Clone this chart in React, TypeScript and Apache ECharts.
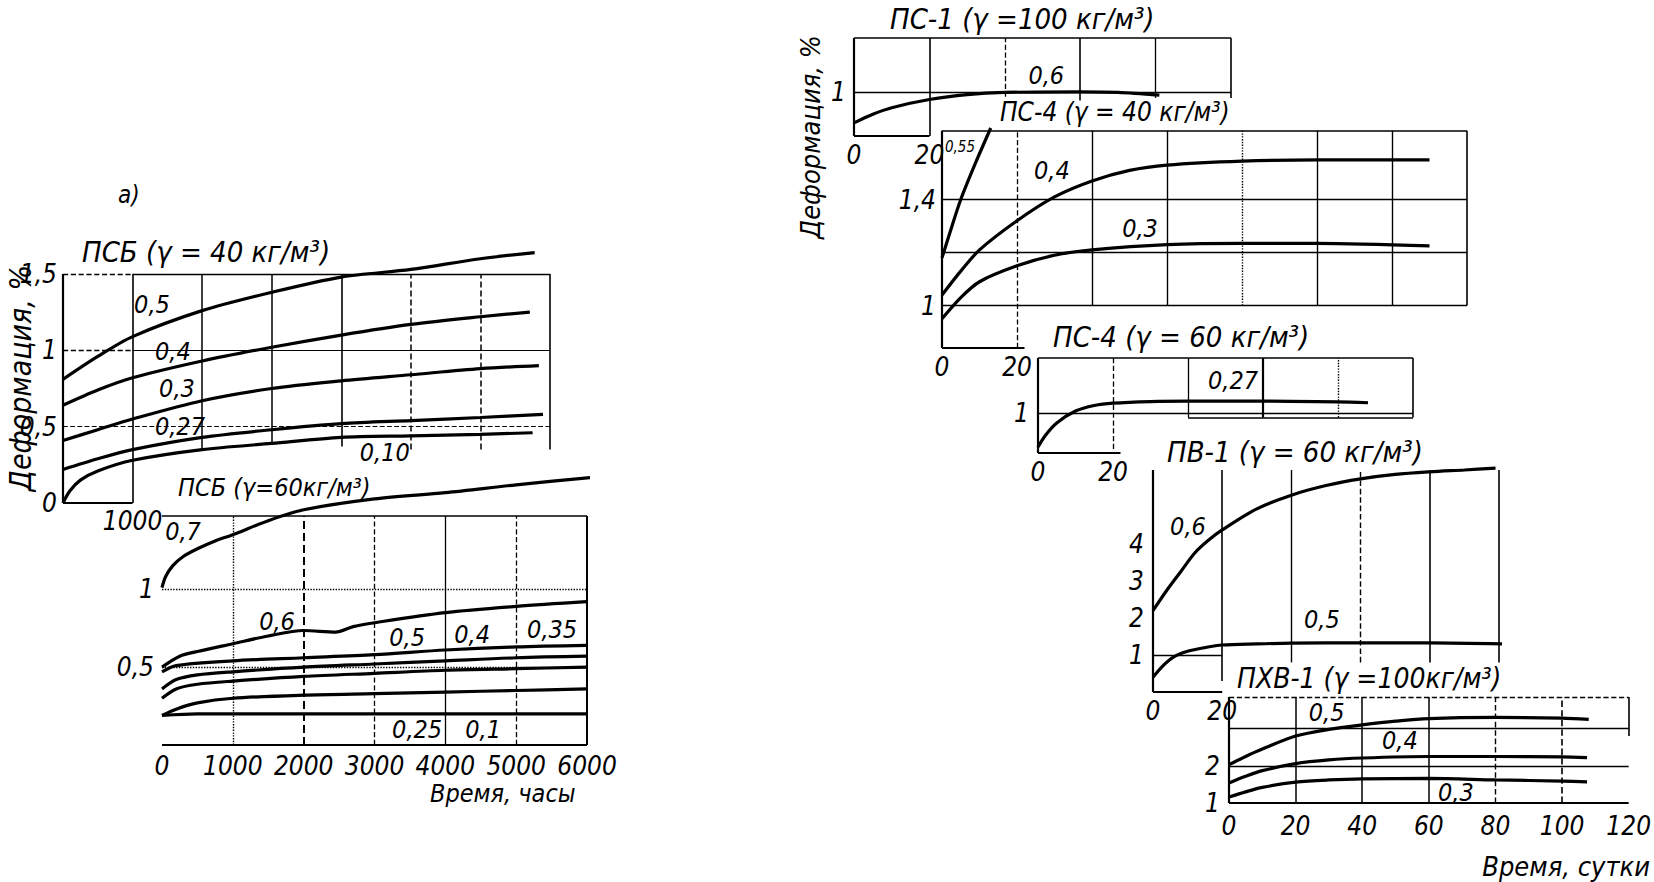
import React, { useEffect, useRef } from 'react';
import * as echarts from 'echarts';

const FONT = "'DejaVu Sans Condensed', 'Liberation Sans Narrow', 'DejaVu Sans', sans-serif";

// ---------- Panel A: ПСБ (γ = 40 кг/м³), time in hours ----------
const psb40_05 = [[0, 0.81], [500, 0.96], [1000, 1.09], [2000, 1.26], [3000, 1.38], [4000, 1.48], [5000, 1.53], [6000, 1.6], [6780, 1.64]];
const psb40_04 = [[0, 0.64], [500, 0.74], [1000, 0.82], [2000, 0.93], [3000, 1.02], [4000, 1.1], [5000, 1.17], [6000, 1.22], [6710, 1.25]];
const psb40_03 = [[0, 0.41], [500, 0.48], [1000, 0.55], [2000, 0.67], [3000, 0.75], [4000, 0.8], [5000, 0.84], [6000, 0.88], [6840, 0.9]];
const psb40_027 = [[0, 0.22], [500, 0.29], [1000, 0.35], [2000, 0.43], [3000, 0.48], [4000, 0.52], [5000, 0.54], [6000, 0.56], [6900, 0.58]];
const psb40_010 = [[0, 0], [100, 0.08], [250, 0.15], [500, 0.21], [1000, 0.28], [2000, 0.35], [3000, 0.39], [4000, 0.43], [5000, 0.44], [6000, 0.45], [6750, 0.46]];
const psb40Notes = [['0,5', 1279, 1.3], ['0,4', 1580, 0.99], ['0,3', 1638, 0.75], ['0,27', 1681, 0.5], ['0,10', 4626, 0.33]];
const psb40XTicks = [1000];
const psb40YTicks = [0, 0.5, 1, 1.5];

// ---------- Panel B: ПСБ (γ = 60 кг/м³), time in hours ----------
const psb60_07 = [[0, 1.01], [50, 1.08], [150, 1.15], [300, 1.21], [500, 1.26], [750, 1.31], [1000, 1.35], [1500, 1.44], [2000, 1.51], [3000, 1.58], [4000, 1.62], [5000, 1.67], [6110, 1.72]];
const psb60_06 = [[0, 0.5], [250, 0.57], [500, 0.6], [1000, 0.65], [1500, 0.7], [2000, 0.735], [2450, 0.725], [2700, 0.76], [3000, 0.785], [4000, 0.85], [5000, 0.89], [6000, 0.92]];
const psb60_05 = [[0, 0.47], [200, 0.51], [1000, 0.54], [2000, 0.56], [3000, 0.58], [4000, 0.61], [5000, 0.63], [6000, 0.64]];
const psb60_04 = [[0, 0.36], [200, 0.42], [500, 0.45], [1000, 0.47], [2000, 0.5], [3000, 0.52], [4000, 0.54], [5000, 0.56], [6000, 0.57]];
const psb60_035 = [[0, 0.3], [200, 0.36], [500, 0.39], [1000, 0.41], [2000, 0.44], [3000, 0.46], [4000, 0.48], [5000, 0.49], [6000, 0.5]];
const psb60_025 = [[0, 0.19], [200, 0.23], [500, 0.27], [1000, 0.3], [2000, 0.32], [3000, 0.33], [4000, 0.34], [5000, 0.35], [6000, 0.36]];
const psb60_01 = [[0, 0.19], [500, 0.2], [3000, 0.2], [6000, 0.2]];
const psb60Notes = [['0,7', 297, 1.37], ['0,6', 1624, 0.79], ['0,5', 3460, 0.69], ['0,4', 4379, 0.71], ['0,35', 5508, 0.74], ['0,25', 3602, 0.1], ['0,1', 4534, 0.1]];
const psb60XTicks = [0, 1000, 2000, 3000, 4000, 5000, 6000];
const psb60YTicks = [0.5, 1];

// ---------- ПС-1 (γ = 100 кг/м³), time in days ----------
const ps1_06 = [[0, 0.44], [5, 0.6], [10, 0.72], [20, 0.87], [30, 0.96], [40, 1.0], [60, 1.01], [70, 1.0], [81, 0.95]];
const ps1Notes = [['0,6', 51, 1.32]];
const ps1XTicks = [0, 20];
const ps1YTicks = [1];

// ---------- ПС-4 (γ = 40 кг/м³) ----------
const ps440_055 = [[0, 1.18], [2, 1.27], [5, 1.4], [9, 1.54], [13, 1.67]];
const ps440_04 = [[0, 1.04], [5, 1.13], [10, 1.21], [20, 1.32], [30, 1.41], [40, 1.47], [50, 1.51], [60, 1.53], [80, 1.545], [100, 1.55], [130, 1.55]];
const ps440_03 = [[0, 0.95], [5, 1.03], [10, 1.09], [20, 1.15], [30, 1.19], [40, 1.21], [60, 1.23], [80, 1.235], [100, 1.235], [130, 1.225]];
const ps440Notes = [['0,4', 29.3, 1.51], ['0,3', 52.8, 1.29]];
const ps440SmallNotes = [['0,55', 4.8, 1.6]];
const ps440XTicks = [0, 20];
const ps440YTicks = [1, 1.4];

// ---------- ПС-4 (γ = 60 кг/м³) ----------
const ps460_027 = [[0, 0.15], [2, 0.45], [5, 0.76], [10, 1.06], [15, 1.2], [20, 1.26], [30, 1.3], [40, 1.31], [60, 1.31], [80, 1.29], [88, 1.27]];
const ps460Notes = [['0,27', 52, 1.84]];
const ps460XTicks = [0, 20];
const ps460YTicks = [1];

// ---------- ПВ-1 (γ = 60 кг/м³) ----------
const pv1_06 = [[0, 2.2], [4, 2.75], [8, 3.25], [12, 3.75], [16, 4.1], [20, 4.38], [30, 4.95], [40, 5.32], [50, 5.58], [60, 5.76], [70, 5.88], [80, 5.95], [90, 6.0], [99, 6.05]];
const pv1_05 = [[0, 0.4], [3, 0.72], [6, 0.95], [10, 1.1], [15, 1.2], [20, 1.27], [30, 1.3], [40, 1.32], [60, 1.33], [80, 1.33], [102, 1.3]];
const pv1Notes = [['0,6', 10.1, 4.46], ['0,5', 48.8, 1.95]];
const pv1XTicks = [0, 20];
const pv1YTicks = [1, 2, 3, 4];

// ---------- ПХВ-1 (γ = 100 кг/м³) ----------
const pxv1_05 = [[0, 2.03], [5, 2.25], [10, 2.45], [20, 2.8], [30, 2.98], [40, 3.1], [50, 3.2], [60, 3.27], [80, 3.3], [100, 3.28], [108, 3.25]];
const pxv1_04 = [[0, 1.54], [5, 1.72], [10, 1.87], [20, 2.06], [30, 2.16], [40, 2.21], [60, 2.25], [80, 2.25], [100, 2.24], [107.5, 2.22]];
const pxv1_03 = [[0, 1.16], [5, 1.3], [10, 1.42], [20, 1.56], [30, 1.62], [40, 1.65], [60, 1.66], [80, 1.62], [100, 1.59], [107.5, 1.57]];
const pxv1Notes = [['0,5', 29.3, 3.42], ['0,4', 51.3, 2.69], ['0,3', 68.1, 1.27]];
const pxv1XTicks = [0, 20, 40, 60, 80, 100, 120];
const pxv1YTicks = [1, 2];

// grid segments in data units: x1, y1, x2, y2, style, width
type Seg = [number, number, number, number, string, number];

const gridA: Seg[] = [
  [0, 0, 0, 1.5, 'solid', 2.2], [0, 0, 1000, 0, 'solid', 2.2], [0, 1.5, 1000, 1.5, 'dashed', 1.3], [1000, 1.5, 7000, 1.5, 'solid', 1.3],
  [1000, 0, 1000, 1.5, 'solid', 1.6], [2000, 0.35, 2000, 1.5, 'solid', 1.5], [3000, 0.4, 3000, 1.5, 'solid', 1.5],
  [4000, 0.37, 4000, 1.5, 'solid', 1.6], [5000, 0.35, 5000, 1.5, 'dashed', 1.5], [6000, 0.35, 6000, 1.5, 'dashed', 1.5],
  [7000, 0.35, 7000, 1.5, 'solid', 1.6], [0, 1, 1000, 1, 'dashed', 1.3], [1000, 1, 7000, 1, 'solid', 1.2], [0, 0.5, 7000, 0.5, 'dashed', 1.2],
];
const gridB: Seg[] = [
  [0, 0, 0, 1.72, 'solid', 2.2], [0, 0, 6000, 0, 'solid', 2.2], [0, 1.47, 6000, 1.47, 'solid', 1.6], [6000, 0, 6000, 1.47, 'solid', 2],
  [1000, 0, 1000, 1.47, 'dotted', 1.4], [2000, 0, 2000, 1.47, 'dashed', 2], [3000, 0, 3000, 1.47, 'dashed', 1.3],
  [4000, 0, 4000, 1.47, 'solid', 1.3], [5000, 0, 5000, 1.47, 'dashed', 1.3], [0, 1, 6000, 1, 'dotted', 1.4], [0, 0.5, 6000, 0.5, 'dotted', 1.4],
];
const gridPS1: Seg[] = [
  [0, 0.2, 0, 2, 'solid', 2.2], [0, 2, 100, 2, 'solid', 1.6], [0, 0.2, 20, 0.2, 'solid', 2.2], [20, 0.2, 20, 2, 'solid', 1.6],
  [40, 0.92, 40, 2, 'dashed', 1.3], [60, 0.85, 60, 2, 'solid', 1.6], [80, 0.9, 80, 2, 'solid', 1.3], [100, 0.9, 100, 2, 'solid', 1.6],
  [0, 1, 100, 1, 'solid', 1.3],
];
const gridPS440: Seg[] = [
  [0, 0.84, 0, 1.66, 'solid', 2.2], [0, 1.66, 140, 1.66, 'solid', 1.6], [0, 0.84, 22, 0.84, 'solid', 2.2], [20, 0.84, 20, 1.66, 'dashed', 1.3],
  [40, 1, 40, 1.66, 'solid', 1.4], [60, 1, 60, 1.66, 'solid', 1.4], [80, 1, 80, 1.66, 'dotted', 1.4], [100, 1, 100, 1.66, 'solid', 1.4],
  [120, 1, 120, 1.66, 'solid', 1.4], [140, 1, 140, 1.66, 'solid', 1.6],
  [0, 1, 140, 1, 'solid', 1.4], [0, 1.2, 140, 1.2, 'solid', 1.3], [0, 1.4, 140, 1.4, 'solid', 1.3],
];
const gridPS460: Seg[] = [
  [0, 0, 0, 2.4, 'solid', 2.2], [0, 2.4, 100, 2.4, 'solid', 1.6], [0, 0, 22, 0, 'solid', 2.2], [20, 0.1, 20, 2.4, 'dashed', 1.3],
  [40, 0.9, 40, 2.4, 'solid', 1.3], [60, 0.9, 60, 2.4, 'solid', 2.2], [80, 0.9, 80, 2.4, 'dotted', 1.4], [100, 0.9, 100, 2.4, 'solid', 1.6],
  [0, 1, 100, 1, 'solid', 1.3], [40, 0.9, 100, 0.9, 'solid', 1.5],
];
const gridPV1: Seg[] = [
  [0, 0, 0, 6, 'solid', 2.2], [0, 6, 115, 6, 'solid', 1.6], [0, 0, 20, 0, 'solid', 2.2], [20, 0.3, 20, 6, 'solid', 1.6],
  [40, 0.8, 40, 6, 'solid', 1.4], [60, 0.8, 60, 6, 'dashed', 1.4], [80, 0.8, 80, 6, 'solid', 1.6], [100, 0.8, 100, 6, 'solid', 1.6],
  [0, 1, 20, 1, 'solid', 1.3], [0, 2, 115, 2, 'solid', 1.6], [0, 3, 115, 3, 'solid', 1.6], [0, 4, 115, 4, 'solid', 1.6], [0, 5, 115, 5, 'solid', 1.6],
];
const gridPXV1: Seg[] = [
  [0, 1, 0, 3.85, 'solid', 2.2], [0, 1, 120, 1, 'solid', 2.2], [0, 3.85, 120, 3.85, 'dashed', 1.3],
  [20, 1, 20, 3.85, 'solid', 1.5], [40, 1, 40, 3.85, 'solid', 1.5], [60, 1, 60, 3.85, 'solid', 1.5],
  [80, 1, 80, 3.85, 'dashed', 1.4], [100, 1, 100, 3.85, 'dashed', 1.6], [120, 2.8, 120, 3.85, 'solid', 1.6],
  [0, 3, 120, 3, 'solid', 1.3], [0, 2, 120, 2, 'solid', 1.3],
];

type Panel = {
  box: number[]; x: number[]; y: number[]; xTicks: number[]; yTicks: number[]; xMargin: number; yMargin: number;
  curves: number[][][]; notes: any[]; smallNotes?: any[]; segs: Seg[];
};

const panels: Panel[] = [
  { box: [63, 274, 487, 229], x: [0, 7000], y: [0, 1.5], xTicks: psb40XTicks, yTicks: psb40YTicks, xMargin: 5, yMargin: 6,
    curves: [psb40_05, psb40_04, psb40_03, psb40_027, psb40_010], notes: psb40Notes, segs: gridA },
  { box: [162, 516, 425, 229], x: [0, 6000], y: [0, 1.47], xTicks: psb60XTicks, yTicks: psb60YTicks, xMargin: 8, yMargin: 8,
    curves: [psb60_07, psb60_06, psb60_05, psb60_04, psb60_035, psb60_025, psb60_01], notes: psb60Notes, segs: gridB },
  { box: [854, 38, 377, 98], x: [0, 100], y: [0.2, 2], xTicks: ps1XTicks, yTicks: ps1YTicks, xMargin: 6, yMargin: 8,
    curves: [ps1_06], notes: ps1Notes, segs: gridPS1 },
  { box: [942, 128, 525, 220], x: [0, 140], y: [0.84, 1.67], xTicks: ps440XTicks, yTicks: ps440YTicks, xMargin: 6, yMargin: 6,
    curves: [ps440_055, ps440_04, ps440_03], notes: ps440Notes, smallNotes: ps440SmallNotes, segs: gridPS440 },
  { box: [1038, 358, 375, 95], x: [0, 100], y: [0, 2.4], xTicks: ps460XTicks, yTicks: ps460YTicks, xMargin: 6, yMargin: 9,
    curves: [ps460_027], notes: ps460Notes, segs: gridPS460 },
  { box: [1153, 470, 346, 222], x: [0, 100], y: [0, 6], xTicks: pv1XTicks, yTicks: pv1YTicks, xMargin: 6, yMargin: 9,
    curves: [pv1_06, pv1_05], notes: pv1Notes, segs: gridPV1 },
  { box: [1229, 697, 405, 106], x: [0, 120], y: [1, 3.85], xTicks: pxv1XTicks, yTicks: pxv1YTicks, xMargin: 10, yMargin: 9,
    curves: [pxv1_05, pxv1_04, pxv1_03], notes: pxv1Notes, segs: gridPXV1 },
];

// text, x, y, font size, alignment
const TITLES: [string, number, number, number, string][] = [
  ['а)', 118, 195, 24, 'left'],
  ['ПСБ (γ = 40 кг/м³)', 82, 252, 29, 'left'],
  ['ПСБ (γ=60кг/м³)', 178, 487, 25, 'left'],
  ['ПС-1 (γ =100 кг/м³)', 890, 19, 29, 'left'],
  ['ПС-4 (γ = 40 кг/м³)', 1000, 112, 26, 'left'],
  ['ПС-4 (γ = 60 кг/м³)', 1053, 337, 29, 'left'],
  ['ПВ-1 (γ = 60 кг/м³)', 1167, 452, 29, 'left'],
  ['ПХВ-1 (γ =100кг/м³)', 1237, 678, 28, 'left'],
  ['Время, часы', 430, 793, 25, 'left'],
  ['Время, сутки', 1650, 866, 27, 'right'],
];

const fmt = (v: number) => String(Math.round(v * 100) / 100).replace('.', ',');

const textStyle = { color: '#000', fontFamily: FONT, fontStyle: 'italic' as const, fontSize: 26 };

function buildOption() {
  const grid: any[] = [];
  const xAxis: any[] = [];
  const yAxis: any[] = [];
  const series: any[] = [];
  panels.forEach((p, i) => {
    grid.push({ left: p.box[0], top: p.box[1], width: p.box[2], height: p.box[3], show: false });
    xAxis.push({
      type: 'value', gridIndex: i, min: p.x[0], max: p.x[1],
      axisLine: { show: false }, axisTick: { show: false }, splitLine: { show: false },
      axisLabel: { ...textStyle, customValues: p.xTicks, formatter: fmt, margin: p.xMargin, showMinLabel: true, showMaxLabel: true },
    });
    yAxis.push({
      type: 'value', gridIndex: i, min: p.y[0], max: p.y[1],
      axisLine: { show: false }, axisTick: { show: false }, splitLine: { show: false },
      axisLabel: { ...textStyle, customValues: p.yTicks, formatter: fmt, margin: p.yMargin, showMinLabel: true, showMaxLabel: true },
    });
    p.curves.forEach((c, k) => {
      const s: any = {
        type: 'line', xAxisIndex: i, yAxisIndex: i, data: c, symbol: 'none', smooth: 0.3, clip: false,
        lineStyle: { color: '#000', width: 3.2 }, silent: true,
      };
      if (k === 0) {
        s.markLine = {
          symbol: ['none', 'none'], silent: true, animation: false, label: { show: false },
          data: p.segs.map((g) => [
            { coord: [g[0], g[1]], lineStyle: { color: '#000', type: g[4], width: g[5] } },
            { coord: [g[2], g[3]] },
          ]),
        };
        const notes = p.notes.map((n) => ({
          coord: [n[1], n[2]], symbolSize: 0,
          label: { show: true, formatter: n[0], ...textStyle, fontSize: 25, position: 'inside' },
        }));
        const small = (p.smallNotes || []).map((n) => ({
          coord: [n[1], n[2]], symbolSize: 0,
          label: { show: true, formatter: n[0], ...textStyle, fontSize: 15, position: 'inside' },
        }));
        s.markPoint = { symbol: 'circle', symbolSize: 0, silent: true, animation: false, data: [...notes, ...small] };
      }
      series.push(s);
    });
  });

  const graphic: any[] = TITLES.map(([t, x, y, size, align]) => ({
    type: 'text', x, y, silent: true,
    style: { text: t, fill: '#000', fontSize: size, fontFamily: FONT, fontStyle: 'italic', align, verticalAlign: 'middle' },
  }));
  graphic.push({
    type: 'text', x: 20, y: 378, rotation: Math.PI / 2, silent: true,
    style: { text: 'Деформация, %', fill: '#000', fontSize: 30, fontFamily: FONT, fontStyle: 'italic', align: 'center', verticalAlign: 'middle' },
  });
  graphic.push({
    type: 'text', x: 810, y: 137, rotation: Math.PI / 2, silent: true,
    style: { text: 'Деформация, %', fill: '#000', fontSize: 27, fontFamily: FONT, fontStyle: 'italic', align: 'center', verticalAlign: 'middle' },
  });

  return { animation: false, backgroundColor: '#fff', grid, xAxis, yAxis, series, graphic };
}

export default function App() {
  const ref = useRef<HTMLDivElement>(null);
  useEffect(() => {
    if (!ref.current) return;
    const chart = echarts.init(ref.current, undefined, { renderer: 'svg' });
    chart.setOption(buildOption() as any);
    return () => chart.dispose();
  }, []);
  return (
    <div
      ref={ref}
      style={{ position: 'fixed', left: 0, top: 0, width: 1654, height: 882, background: '#fff' }}
    />
  );
}
